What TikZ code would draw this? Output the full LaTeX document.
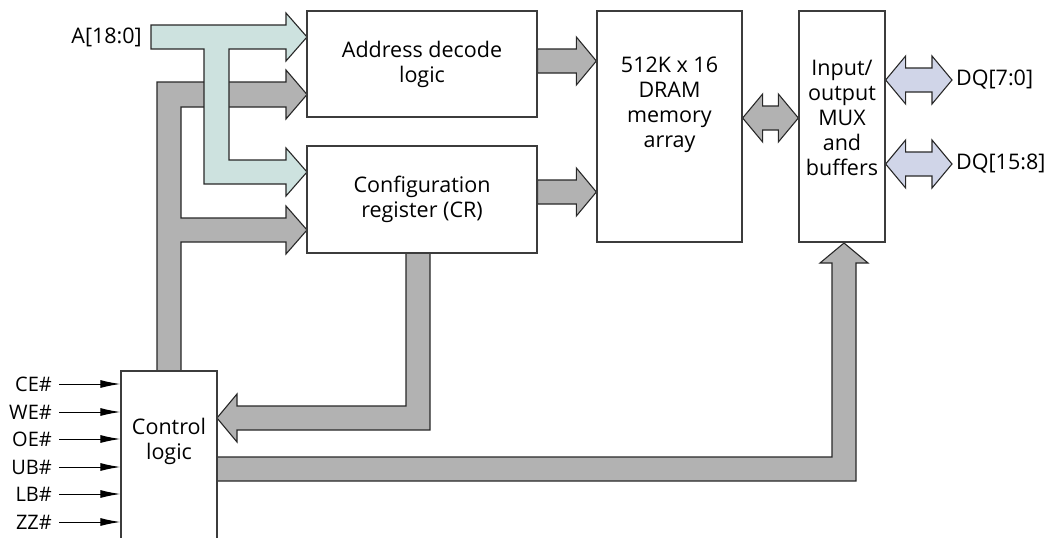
\documentclass[tikz,border=0pt]{standalone}
\usepackage{fontspec}
\setmainfont{Open Sans}
\usetikzlibrary{arrows.meta,calc,backgrounds}
\definecolor{busgrey}{RGB}{178,178,178}
\definecolor{busteal}{RGB}{205,226,223}
\definecolor{buslav}{RGB}{208,213,232}
\definecolor{edgecol}{RGB}{40,40,40}
\definecolor{boxcol}{RGB}{60,60,60}
\tikzset{
  block/.style={draw=boxcol, line width=1.3pt, fill=white, inner sep=0pt},
  blocktext/.style={align=center, inner sep=0pt},
  bus/.style={draw=edgecol, line width=1.1pt, fill=busgrey, line join=miter},
  addrbus/.style={bus, fill=busteal},
  databus/.style={bus, fill=buslav},
  sig/.style={-{Latex[length=20pt,width=8pt]}, line width=1pt, shorten <=5pt},
  pin/.style={inner sep=2pt},
  sigpin/.style={pin, font=\fontsize{20}{24}\selectfont},
}
% straight bus: style, tail, tip (arrow points right)
\newcommand{\hbus}[3]{%
  \draw[#1] let \p1=#2, \p2=#3 in
    (\x1,\y2+12pt) -- (\x2-20pt,\y2+12pt) -- (\x2-20pt,\y2+24pt) -- (\x2,\y2)
    -- (\x2-20pt,\y2-24pt) -- (\x2-20pt,\y2-12pt) -- (\x1,\y2-12pt) -- cycle;}
% two-way bus: style, left tip, right tip
\newcommand{\hdbus}[3]{%
  \draw[#1] let \p1=#2, \p2=#3 in
    (\x1,\y1) -- (\x1+20pt,\y1+24pt) -- (\x1+20pt,\y1+12pt) -- (\x2-20pt,\y1+12pt)
    -- (\x2-20pt,\y1+24pt) -- (\x2,\y1) -- (\x2-20pt,\y1-24pt) -- (\x2-20pt,\y1-12pt)
    -- (\x1+20pt,\y1-12pt) -- (\x1+20pt,\y1-24pt) -- cycle;}
\begin{document}
\begin{tikzpicture}[x=1pt,y=-1pt,font=\fontsize{21.5}{25}\selectfont]
    \useasboundingbox (0,0) rectangle (1045,538);
    \clip (0,0) rectangle (1045,538);

    % blocks
    \node[block, minimum width=230pt, minimum height=106pt, blocktext] (addr) at (422,64) {Address decode\\logic};
    \node[block, minimum width=230pt, minimum height=107pt, blocktext] (cfg) at (422,199.5) {Configuration\\register (CR)};
    \node[block, minimum width=145pt, minimum height=231pt] (dram) at (669.5,126.5) {};
    \node[blocktext] (dramtxt) at (669.5,105) {512K x 16\\DRAM\\memory\\array};
    \node[block, minimum width=86pt, minimum height=231pt] (mux) at (842,126.5) {};
    \node[blocktext] (muxtxt) at (842,118) {Input/\\output\\MUX\\and\\buffers};
    \node[block, minimum width=96pt, minimum height=189pt] (ctrl) at (169,465.5) {}; % runs off the bottom
    \node[blocktext] (ctrltxt) at (169,441) {Control\\logic};

    % pins
    \node[pin, anchor=east] (abus) at (144,37) {A[18:0]};
    \node[pin, inner xsep=4pt, anchor=west] (dqlo) at (952,80) {DQ[7:0]};
    \node[pin, inner xsep=4pt, anchor=west] (dqhi) at (952,164) {DQ[15:8]};
    \foreach \sname/\sy [count=\i] in {CE\#/384,WE\#/412,OE\#/439,UB\#/467,LB\#/494,ZZ\#/522} {
        \node[sigpin, anchor=east] (s\i) at (54,\sy) {\sname};
        \draw[sig] (s\i.east) -- (s\i.east -| ctrl.west);
    }

    \begin{scope}[on background layer]
        % control bus up to address decode and CR
        \draw[bus] (157,371) -- (157,82) -- (286,82) -- (286,70) -- (307,94.5) -- (286,119) -- (286,107)
            -- (181,107) -- (181,218) -- (286,218) -- (286,206) -- (307,230) -- (286,254) -- (286,242)
            -- (181,242) -- (181,371) -- cycle;
        % address bus
        \draw[addrbus] (151,25) -- (286,25) -- (286,13) -- (307,37) -- (286,61) -- (286,49) -- (229,49)
            -- (229,160) -- (286,160) -- (286,148) -- (307,172) -- (286,196) -- (286,184) -- (204,184)
            -- (204,49) -- (151,49) -- cycle;
        % CR back to control logic
        \draw[bus] (406,253) -- (406,406) -- (237,406) -- (237,394) -- (217,418) -- (237,442) -- (237,430)
            -- (430,430) -- (430,253) -- cycle;
        % control logic to MUX
        \draw[bus] (217,457) -- (832,457) -- (832,263) -- (820,263) -- (844,243) -- (868,263) -- (856,263)
            -- (856,481) -- (217,481) -- cycle;

        \hbus{bus}{(addr.east)}{(dram.west |- 0,61)}
        \hbus{bus}{(cfg.east)}{(dram.west |- 0,192)}
        \hdbus{bus}{(dram.east |- 0,118)}{(mux.west |- 0,118)}
        \hdbus{databus}{(mux.east |- dqlo.west)}{(dqlo.west)}
        \hdbus{databus}{(mux.east |- dqhi.west)}{(dqhi.west)}
    \end{scope}
\end{tikzpicture}
\end{document}
